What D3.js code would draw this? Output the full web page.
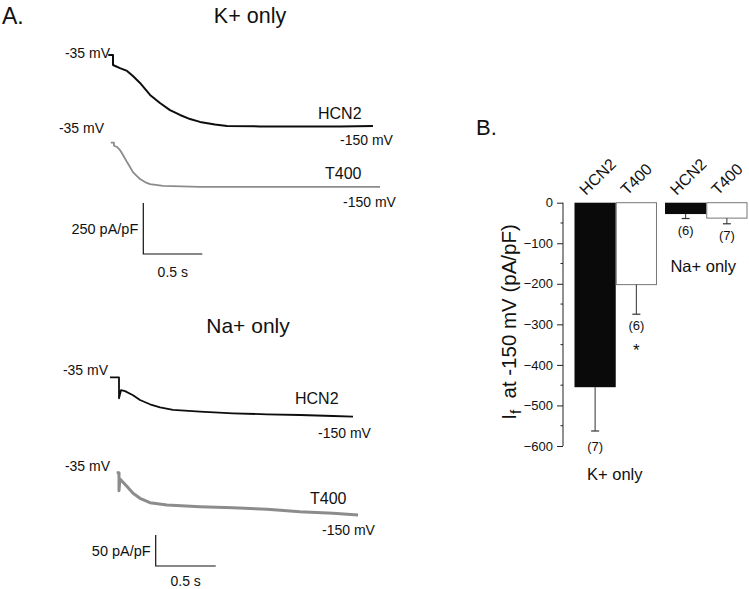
<!DOCTYPE html>
<html>
<head>
<meta charset="utf-8">
<script src="https://cdn.jsdelivr.net/npm/d3@7"></script>
<style>
  html, body { margin: 0; padding: 0; background: #fff; }
  svg { display: block; font-family: "Liberation Sans", Arial, sans-serif; }
  text { fill: #111; }
</style>
</head>
<body>
<svg id="chart" width="749" height="589"></svg>
<script>
// ---------- Panel A: current traces (time in s from step, current in pA/pF from holding) ----------
const kHcn2T = [-0.040, 0, 0, 0.059, 0.119, 0.169, 0.229, 0.314, 0.398, 0.483, 0.568, 0.653, 0.737, 0.864, 0.966, 1.246, 1.585, 1.924, 2.203];
const kHcn2I = [0, 0, -49, -64, -78, -103, -137, -196, -235, -270, -294, -314, -328, -341, -348, -350, -350, -350, -348];

const kT400T = [-0.019, 0.008, 0.008, 0.034, 0.059, 0.085, 0.119, 0.144, 0.169, 0.203, 0.229, 0.271, 0.314, 0.424, 0.737, 1.161, 1.585, 2.008, 2.263];
const kT400I = [0, 0, -15, -21, -36, -60, -95, -119, -144, -164, -178, -193, -203, -212, -217, -217, -217, -217, -217];

const naHcn2T = [-0.075, 0, 0, 0.017, 0.05, 0.117, 0.175, 0.258, 0.342, 0.450, 0.675, 0.950, 1.233, 1.508, 1.783, 1.950];
const naHcn2I = [0, 0, -33.9, -20.6, -22.3, -28.9, -36.6, -43.5, -48.4, -52.7, -55.5, -58.1, -59.7, -60.8, -62.4, -63.5];

const naT400T = [-0.019, 0, 0, 0.008, 0.067, 0.117, 0.175, 0.258, 0.4, 0.675, 0.95, 1.233, 1.508, 1.783, 1.992];
const naT400I = [0, 0, -29, -10, -22.4, -33.1, -41.3, -48.4, -52.1, -54.8, -56.5, -59, -62.9, -65.5, -68.2];

// scale bars
const kScaleI = 250, kScaleT = 0.5;
const naScaleI = 50, naScaleT = 0.5;

// ---------- Panel B: bar chart ----------
const groups = ["K+ only", "Na+ only"];
const constructs = ["HCN2", "T400"];
const kMeans = [-455, -202];
const kErr = [108, 73];
const kN = [7, 6];
const naMeans = [-28, -38];
const naErr = [11, 14];
const naN = [6, 7];
const yTicks = [0, -100, -200, -300, -400, -500, -600];

const svg = d3.select("#chart");

// ---- Panel A headers ----
svg.append("text").attr("x", 2).attr("y", 24).attr("font-size", 23).text("A.");
svg.append("text").attr("x", 250).attr("y", 23).attr("font-size", 21.5).attr("text-anchor", "middle").text("K+ only");
svg.append("text").attr("x", 248).attr("y", 333).attr("font-size", 21).attr("text-anchor", "middle").text("Na+ only");

function drawTrace(T, I, xs, ys, color, width) {
  const pts = T.map((t, i) => [xs(t), ys(I[i])]);
  svg.append("path")
    .attr("d", d3.line()(pts))
    .attr("fill", "none")
    .attr("stroke", color)
    .attr("stroke-width", width)
    .attr("stroke-linejoin", "round");
}

// K+ panel scales
const kx = d3.scaleLinear().domain([0, 1]).range([113, 113 + 118]);
const kPxPerI = 0.204;
const kyH = d3.scaleLinear().domain([0, -1]).range([55, 55 + kPxPerI]);
const kyT = d3.scaleLinear().domain([0, -1]).range([142.7, 142.7 + kPxPerI]);
drawTrace(kHcn2T, kHcn2I, kx, kyH, "#0d0d0d", 2);
drawTrace(kT400T, kT400I, kx, kyT, "#8c8c8c", 1.8);

// Na+ panel scales
const nx = d3.scaleLinear().domain([0, 1]).range([119, 119 + 120]);
const nPxPerI = 0.62;
const nyH = d3.scaleLinear().domain([0, -1]).range([377.3, 377.3 + nPxPerI]);
const nyT = d3.scaleLinear().domain([0, -1]).range([472.7, 472.7 + nPxPerI]);
drawTrace(naHcn2T, naHcn2I, nx, nyH, "#0d0d0d", 1.8);
drawTrace(naT400T, naT400I, nx, nyT, "#8c8c8c", 3);

// trace labels
function lab(x, y, s, txt, anchor) {
  svg.append("text").attr("x", x).attr("y", y).attr("font-size", s)
    .attr("text-anchor", anchor || "start").text(txt);
}
lab(110, 58, 14, "-35 mV", "end");
lab(104, 133, 14, "-35 mV", "end");
lab(318, 119, 16, "HCN2");
lab(325, 179, 16, "T400");
lab(340, 145, 14, "-150 mV");
lab(343, 207, 14, "-150 mV");

lab(108, 375, 14, "-35 mV", "end");
lab(110, 471, 14, "-35 mV", "end");
lab(295, 404, 16, "HCN2");
lab(310, 504, 16, "T400");
lab(318, 438, 14, "-150 mV");
lab(322, 535, 14, "-150 mV");

// scale bars
function scaleBar(x0, yBottom, xs, pxPerI, iVal, tVal, iLabel, tLabel, tLabelY) {
  const x1 = x0 + (xs(tVal) - xs(0));
  const yTop = yBottom - iVal * pxPerI;
  svg.append("path")
    .attr("d", `M${x0},${yTop}V${yBottom}H${x1}`)
    .attr("fill", "none").attr("stroke", "#111").attr("stroke-width", 1.2);
  svg.append("text").attr("x", x0 - 5).attr("y", (yTop + yBottom) / 2 + 5)
    .attr("font-size", 14.5).attr("text-anchor", "end").text(iLabel);
  svg.append("text").attr("x", (x0 + x1) / 2).attr("y", tLabelY)
    .attr("font-size", 14).attr("text-anchor", "middle").text(tLabel);
}
scaleBar(143.3, 254, kx, kPxPerI, kScaleI, kScaleT, "250 pA/pF", "0.5 s", 277);
scaleBar(155.7, 566, nx, nPxPerI, naScaleI, naScaleT, "50 pA/pF", "0.5 s", 585.5);

// ---- Panel B ----
svg.append("text").attr("x", 476).attr("y", 135).attr("font-size", 22).text("B.");

const y = d3.scaleLinear().domain([-600, 0]).range([446, 202.7]);
const axisX = 563;

const gx = d3.scaleBand().domain(groups).range([574.5, 747.5]).paddingInner(8 / 90).paddingOuter(0);
const bx = d3.scaleBand().domain(constructs).range([0, gx.bandwidth()]);

// axis
const yAxis = d3.axisLeft(y).tickValues(yTicks).tickSize(6).tickPadding(4).tickFormat(d3.format("d"));
const ag = svg.append("g").attr("transform", `translate(${axisX},0)`).call(yAxis);
ag.select(".domain").attr("stroke", "#222").attr("d", `M0,${y(-600)}V${y(0)}`);
ag.selectAll(".tick line").attr("stroke", "#222");
ag.selectAll(".tick text").attr("font-size", 13).attr("font-family", "Liberation Sans, Arial, sans-serif").attr("fill", "#111");
const minor = d3.range(-550, 0, 100);
ag.selectAll(".minor").data(minor).enter().append("line")
  .attr("x1", -2.5).attr("x2", 0).attr("y1", d => y(d)).attr("y2", d => y(d))
  .attr("stroke", "#222");

// y label
const yl = svg.append("text")
  .attr("transform", `translate(516,322) rotate(-90)`)
  .attr("text-anchor", "middle").attr("font-size", 20.5);
yl.append("tspan").text("I");
yl.append("tspan").attr("font-size", 15).attr("dy", 5).text("f");
yl.append("tspan").attr("dy", -5).text("\u00a0 at -150 mV (pA/pF)");

const barData = [];
groups.forEach((g, gi) => {
  const means = gi === 0 ? kMeans : naMeans;
  const errs = gi === 0 ? kErr : naErr;
  const ns = gi === 0 ? kN : naN;
  constructs.forEach((c, ci) => {
    barData.push({ g, c, mean: means[ci], err: errs[ci], n: ns[ci] });
  });
});

const bars = svg.append("g");
barData.forEach(d => {
  const x0 = gx(d.g) + bx(d.c);
  const w = bx.bandwidth();
  const cx = x0 + w / 2;
  const black = d.c === "HCN2";
  bars.append("rect")
    .attr("x", black ? x0 : x0 + 0.5).attr("y", y(0))
    .attr("width", black ? w : w - 1).attr("height", y(d.mean) - y(0))
    .attr("fill", black ? "#0a0a0a" : "#fff")
    .attr("stroke", black ? "none" : "#777").attr("stroke-width", 1);
  const yEnd = y(d.mean - d.err);
  bars.append("line").attr("x1", cx).attr("x2", cx).attr("y1", y(d.mean)).attr("y2", yEnd)
    .attr("stroke", "#333").attr("stroke-width", 1);
  bars.append("line").attr("x1", cx - 4).attr("x2", cx + 4).attr("y1", yEnd).attr("y2", yEnd)
    .attr("stroke", "#333").attr("stroke-width", 1.2);
  bars.append("text").attr("x", cx).attr("y", yEnd + (d.n === 7 && d.g === "K+ only" ? 20 : 16))
    .attr("text-anchor", "middle").attr("font-size", 13).text(`(${d.n})`);
  // rotated category label
  bars.append("text")
    .attr("transform", `translate(${cx - 9},196) rotate(-45)`)
    .attr("font-size", 16).text(d.c);
  if (d.g === "K+ only" && d.c === "T400") {
    bars.append("text").attr("x", cx).attr("y", yEnd + 42)
      .attr("text-anchor", "middle").attr("font-size", 17).text("*");
  }
});

// group labels
svg.append("text").attr("x", gx("K+ only") + gx.bandwidth() / 2 - 1).attr("y", 480)
  .attr("text-anchor", "middle").attr("font-size", 16.5).text("K+ only");
svg.append("text").attr("x", gx("Na+ only") + gx.bandwidth() / 2 - 3).attr("y", 272)
  .attr("text-anchor", "middle").attr("font-size", 16.5).text("Na+ only");
</script>
</body>
</html>
